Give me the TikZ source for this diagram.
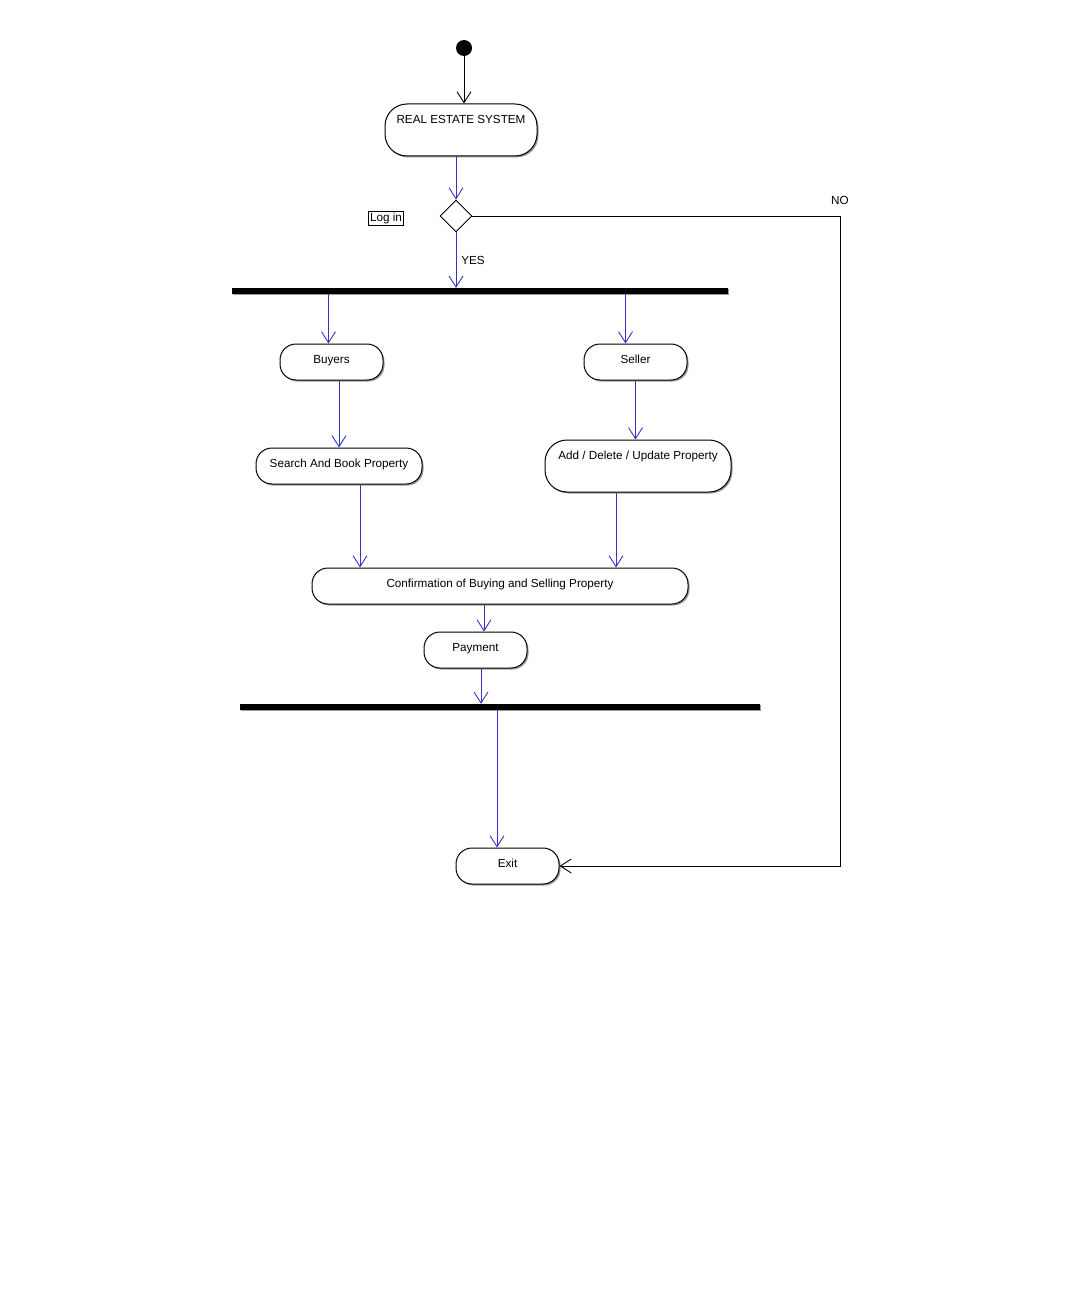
\documentclass[tikz,border=0pt]{standalone}
\usepackage{fontspec}
\setmainfont{Liberation Sans}
\usetikzlibrary{arrows.meta,shapes.geometric,shadows}
\definecolor{flowblue}{RGB}{52,52,196}

\tikzset{
    act/.style={draw, line width=1pt, rounded corners=16pt, fill=white,
        drop shadow={shadow xshift=1.5pt, shadow yshift=-1.5pt, fill=black!40, opacity=1},
        inner xsep=0pt, inner ysep=0pt, text height=19.5pt, text depth=16.5pt},
    tall/.style={rounded corners=22pt, text depth=32.5pt},
    bar/.style={fill=black, inner sep=0pt, minimum height=6pt,
        drop shadow={shadow xshift=1pt, shadow yshift=-1pt, fill=black!40, opacity=1}},
    fl/.style={->, draw=flowblue, line width=0.9pt},
    bl/.style={->, draw=black, line width=0.9pt}
}

\begin{document}
\begin{tikzpicture}[x=1pt, y=-1pt, >={Straight Barb[length=11pt,width=14pt]},
    every node/.style={font=\fontsize{11.7}{14}\selectfont}]
    \useasboundingbox (0,0) rectangle (1088,1308);

    \node[circle, fill=black, inner sep=0pt, minimum size=16pt] (start) at (464,48) {};
    \node[act, tall, minimum width=152pt] (res) at (461,130) {REAL ESTATE SYSTEM};
    \node[diamond, draw, line width=0.9pt, fill=white, inner sep=0pt, minimum size=32pt] (dec) at (456,216) {};
    \node[draw, line width=0.8pt, inner sep=1.5pt] (login) at (386,218) {Log in};
    \coordinate (turn) at (840,216);
    \node (no) at (840,200) {NO};
    \node (yes) at (473,260) {YES};

    \node[bar, minimum width=496pt] (bar1) at (480,291) {};
    \node[act, minimum width=103pt] (buy) at (331.5,362) {Buyers};
    \node[act, minimum width=103pt] (sel) at (635.5,362) {Seller};
    \node[act, minimum width=166pt] (srch) at (339,466) {Search And Book Property};
    \node[act, tall, minimum width=186pt] (add) at (638,466) {Add / Delete / Update Property};
    \node[act, minimum width=376pt] (conf) at (500,586) {Confirmation of Buying and Selling Property};
    \node[act, minimum width=103pt] (pay) at (475.5,650) {Payment};
    \node[bar, minimum width=520pt] (bar2) at (500,707) {};
    \node[act, minimum width=103pt] (exit) at (507.5,866) {Exit};

    \draw[bl] (start) -- (start |- res.north);
    \draw[fl] (dec |- res.south) -- (dec.north);
    \draw[bl] (dec.east) -- (turn) |- (exit.east);
    \draw[fl] (dec.south) -- (dec |- bar1.north);

    \draw[fl] ([xshift=-3pt]buy.north |- bar1.south) -- ([xshift=-3pt]buy.north);
    \draw[fl] ([xshift=-10pt]sel.north |- bar1.south) -- ([xshift=-10pt]sel.north);
    \draw[fl] (srch.north |- buy.south) -- (srch.north);
    \draw[fl] (sel.south) -- (sel |- add.north);
    \draw[fl] ([xshift=21pt]srch.south) -- ([xshift=21pt]srch.south |- conf.north);
    \draw[fl] ([xshift=-22pt]add.south) -- ([xshift=-22pt]add.south |- conf.north);
    \draw[fl] ([xshift=8.5pt]pay.north |- conf.south) -- ([xshift=8.5pt]pay.north);
    \draw[fl] ([xshift=5.5pt]pay.south) -- ([xshift=5.5pt]pay.south |- bar2.north);
    \draw[fl] ([xshift=-10.5pt]exit.north |- bar2.south) -- ([xshift=-10.5pt]exit.north);
\end{tikzpicture}
\end{document}
